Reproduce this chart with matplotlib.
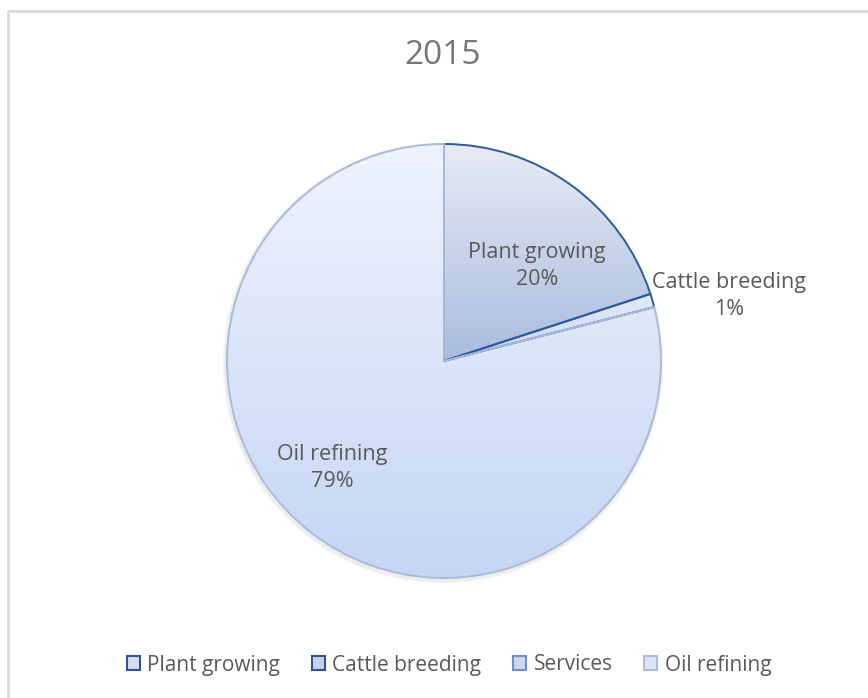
import numpy as np
import matplotlib.pyplot as plt
from matplotlib.colors import LinearSegmentedColormap
from matplotlib.patches import Rectangle

plt.rcParams['font.family'] = ['Open Sans', 'DejaVu Sans']

title = '2015'
sectors = ['Plant growing', 'Cattle breeding', 'Services', 'Oil refining']
shares = [20, 1, 0, 79]

# gradient (top, bottom) per slice, edge colours and legend swatches
grad_top = ['#e6eaf3', '#e4ebf8', '#dbe4f4', '#eef3fd']
grad_bot = ['#a9bcdf', '#c9d7f1', '#b7c8e8', '#c5d6f4']
edge_cols = ['#2f5b9b', '#2f5b9b', '#7f9fd1', '#a9bbd9']
legend_fill = ['#d5def0', '#c2d1ee', '#c9d7ef', '#dce6f7']
legend_edge = ['#2f5597', '#2f5597', '#6f8fc6', '#aebfdc']

W, H = 868, 698
cx, cy, R = 444, H - 361, 217
text_col = '#595959'

fig = plt.figure(figsize=(W / 100, H / 100), dpi=100)
ax = fig.add_axes([0, 0, 1, 1])

wedges, _ = ax.pie(shares, startangle=90, counterclock=False,
                   center=(cx, cy), radius=R, frame=True,
                   wedgeprops=dict(linewidth=1.4))

grad = np.linspace(0, 1, 256).reshape(-1, 1)
for i, w in enumerate(wedges):
    w.set_facecolor('none')
    w.set_edgecolor(edge_cols[i])
    w.set_zorder(3)
    if shares[i] == 0:
        w.set_visible(False)
        continue
    ext = w.get_path().get_extents()
    cmap = LinearSegmentedColormap.from_list('g%d' % i, [grad_top[i], grad_bot[i]])
    im = ax.imshow(grad, cmap=cmap, aspect='auto', origin='upper',
                   extent=(ext.x0, ext.x1, ext.y0, ext.y1), zorder=2)
    im.set_clip_path(w)

# soft shadow under the pie
for k, a in enumerate([0.05, 0.04, 0.03]):
    sh = plt.Circle((cx - 1, cy - 2), R + 1 + k, color='#808080', alpha=a, zorder=1)
    ax.add_patch(sh)

# data labels
label_pos = {0: (537, H - 266), 1: (729, H - 296), 3: (332, H - 468)}
for i, (x, y) in label_pos.items():
    ax.text(x, y, f'{sectors[i]}\n{shares[i]}%', ha='center', va='center',
            fontsize=15.5, color=text_col, linespacing=1.4, zorder=5)

ax.text(443, H - 55, title, ha='center', va='center', fontsize=24, color='#767676')

# chart area border (left and top only visible)
ax.plot([7.5, 7.5, W], [0, H - 10.5, H - 10.5], color='#d9d9d9', lw=2, zorder=0)

handles = [Rectangle((0, 0), 1, 1, facecolor=legend_fill[i], edgecolor=legend_edge[i], lw=1.5)
           for i in range(len(sectors))]
ax.legend(handles, sectors, loc='center', bbox_to_anchor=(449 / W, 33 / H),
          ncol=4, frameon=False, fontsize=15, labelcolor=text_col,
          handlelength=0.65, handleheight=0.65, handletextpad=0.35,
          columnspacing=1.5)

ax.set_xlim(0, W)
ax.set_ylim(0, H)
ax.set_aspect('equal')
ax.axis('off')

fig.savefig('out.png', dpi=100, facecolor='white')
